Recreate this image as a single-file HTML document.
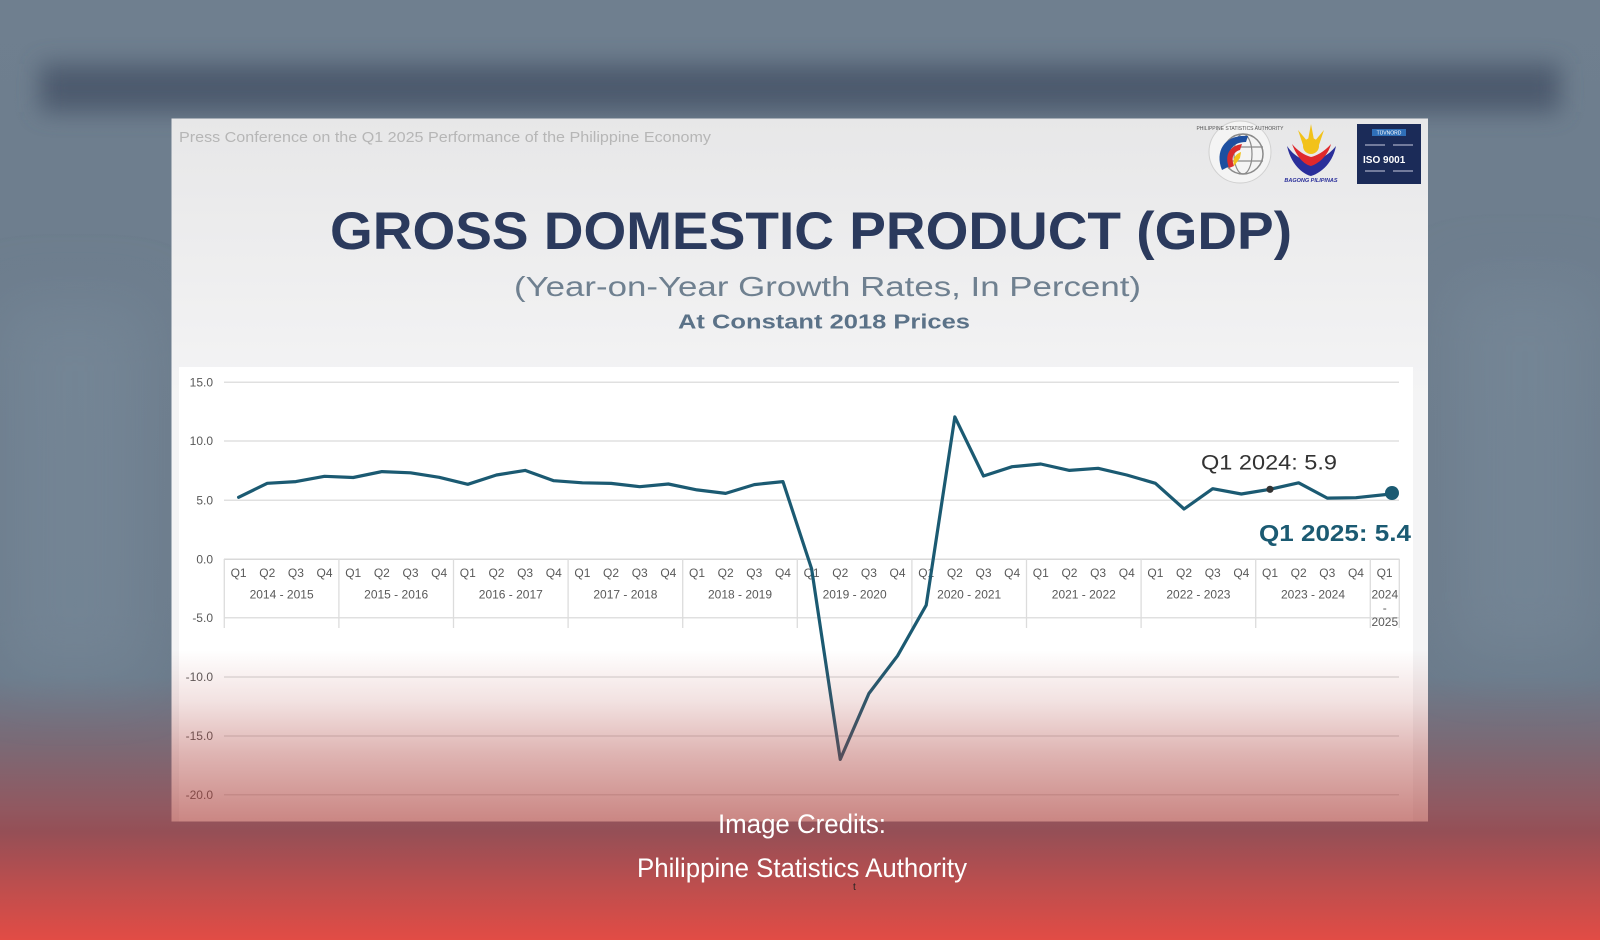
<!DOCTYPE html>
<html><head><meta charset="utf-8">
<style>
html,body{margin:0;padding:0;}
body{width:1600px;height:940px;overflow:hidden;background:#6e7e8e;}
svg{display:block;}
text{font-family:"Liberation Sans",Arial,sans-serif;}
</style></head>
<body>
<svg width="1600" height="940" viewBox="0 0 1600 940" xmlns="http://www.w3.org/2000/svg">
<defs>
<linearGradient id="bg" x1="0" y1="0" x2="0" y2="940" gradientUnits="userSpaceOnUse">
<stop offset="0" stop-color="#6f7f8f"/>
<stop offset="0.72" stop-color="#6b7b8b"/>
<stop offset="0.79" stop-color="#7a6a76"/>
<stop offset="0.86" stop-color="#915860"/>
<stop offset="0.885" stop-color="#954f56"/>
<stop offset="0.94" stop-color="#bb4e4e"/>
<stop offset="1" stop-color="#e24c45"/>
</linearGradient>
<filter id="blur" x="-10%" y="-100%" width="120%" height="300%"><feGaussianBlur stdDeviation="12"/></filter>
<filter id="blur2" x="-50%" y="-50%" width="200%" height="200%"><feGaussianBlur stdDeviation="30"/></filter>
<linearGradient id="slidebg" x1="0" y1="118" x2="0" y2="400" gradientUnits="userSpaceOnUse">
<stop offset="0" stop-color="#e7e7e8"/>
<stop offset="1" stop-color="#f4f4f5"/>
</linearGradient>
<linearGradient id="ov" x1="0" y1="650" x2="0" y2="822" gradientUnits="userSpaceOnUse">
<stop offset="0" stop-color="rgb(170,60,55)" stop-opacity="0"/>
<stop offset="0.3" stop-color="rgb(170,60,55)" stop-opacity="0.15"/>
<stop offset="0.6" stop-color="rgb(170,60,55)" stop-opacity="0.38"/>
<stop offset="1" stop-color="rgb(170,60,55)" stop-opacity="0.62"/>
</linearGradient>
</defs>

<!-- page background -->
<rect x="0" y="0" width="1600" height="940" fill="url(#bg)"/>
<rect x="40" y="64" width="1520" height="48" fill="#48576a" filter="url(#blur)" opacity="0.9"/>
<rect x="0" y="300" width="150" height="380" fill="#7a8c9c" filter="url(#blur2)" opacity="0.5"/>
<rect x="1450" y="280" width="150" height="380" fill="#7a8c9c" filter="url(#blur2)" opacity="0.5"/>

<!-- slide -->
<rect x="171.5" y="118.5" width="1256.5" height="703" fill="url(#slidebg)"/>
<rect x="179" y="367" width="1234" height="454.5" fill="#ffffff"/>

<text x="179" y="142" font-size="15" fill="#b6b6b6" textLength="532" lengthAdjust="spacingAndGlyphs">Press Conference on the Q1 2025 Performance of the Philippine Economy</text>

<!-- logos -->
<g>
<circle cx="1240" cy="152" r="31" fill="#f4f4f4" stroke="#d0d0d0" stroke-width="1"/>
<circle cx="1243" cy="154" r="20" fill="none" stroke="#8a8a8a" stroke-width="1.5"/>
<ellipse cx="1243" cy="154" rx="9" ry="20" fill="none" stroke="#8a8a8a" stroke-width="1.2"/>
<line x1="1223" y1="147" x2="1263" y2="147" stroke="#8a8a8a" stroke-width="1.2"/>
<line x1="1223" y1="161" x2="1263" y2="161" stroke="#8a8a8a" stroke-width="1.2"/>
<path d="M1222 170 C1214 150 1226 134 1248 136 L1246 142 C1232 142 1226 152 1230 166 Z" fill="#1d4fa0"/>
<path d="M1229 168 C1224 154 1230 146 1242 144 L1240 150 C1233 152 1231 158 1234 166 Z" fill="#d92c2c"/>
<path d="M1234 166 C1232 158 1236 154 1241 152 L1240 158 Z" fill="#f2c21a"/>
<text x="1240" y="130" font-size="5" fill="#555" text-anchor="middle">PHILIPPINE STATISTICS AUTHORITY</text>
</g>
<g>
<path d="M1311 124 L1314 140 L1308 140 Z" fill="#f2c21a"/>
<path d="M1298 130 L1308 142 L1303 145 Z" fill="#f2c21a"/>
<path d="M1324 130 L1319 145 L1314 142 Z" fill="#f2c21a"/>
<circle cx="1311" cy="146" r="8" fill="#f2c21a"/>
<path d="M1287 146 C1292 168 1306 175 1311 176 C1318 174 1332 166 1336 146 C1328 156 1318 160 1311 162 C1302 160 1294 156 1287 146 Z" fill="#2a2f9a"/>
<path d="M1292 144 C1298 160 1306 165 1311 166 C1318 164 1328 156 1331 144 C1324 152 1316 156 1311 157 C1304 155 1298 151 1292 144 Z" fill="#e0282c"/>
<text x="1311" y="182" font-size="5.5" font-weight="bold" fill="#2a2f9a" text-anchor="middle" font-style="italic">BAGONG PILIPINAS</text>
</g>
<g>
<rect x="1357" y="124" width="64" height="60" fill="#1b2b58"/>
<rect x="1372" y="129" width="34" height="7" fill="#2f6fb8"/>
<text x="1389" y="134.5" font-size="5" fill="#ffffff" text-anchor="middle">TÜVNORD</text>
<line x1="1365" y1="145" x2="1385" y2="145" stroke="#c8cbe0" stroke-width="1"/>
<line x1="1393" y1="145" x2="1413" y2="145" stroke="#c8cbe0" stroke-width="1"/>
<text x="1363" y="163" font-size="10" font-weight="bold" fill="#ffffff">ISO 9001</text>
<line x1="1365" y1="171" x2="1385" y2="171" stroke="#c8cbe0" stroke-width="1"/>
<line x1="1393" y1="171" x2="1413" y2="171" stroke="#c8cbe0" stroke-width="1"/>
</g>

<!-- titles -->
<text x="330" y="249" font-size="53" font-weight="bold" fill="#2b3a5d" textLength="962" lengthAdjust="spacingAndGlyphs">GROSS DOMESTIC PRODUCT (GDP)</text>
<text x="514" y="296" font-size="28" fill="#6f8090" textLength="627" lengthAdjust="spacingAndGlyphs">(Year-on-Year Growth Rates, In Percent)</text>
<text x="678" y="328.5" font-size="20" font-weight="bold" fill="#5b7288" textLength="292" lengthAdjust="spacingAndGlyphs">At Constant 2018 Prices</text>

<!-- gridlines -->
<g stroke="#e0e0e0" stroke-width="1.5">
<line x1="224" y1="382.3" x2="1399" y2="382.3"/>
<line x1="224" y1="441" x2="1399" y2="441"/>
<line x1="224" y1="500.3" x2="1399" y2="500.3"/>
<line x1="224" y1="617.7" x2="1399" y2="617.7"/>
<line x1="224" y1="677" x2="1399" y2="677"/>
<line x1="224" y1="736" x2="1399" y2="736"/>
<line x1="224" y1="794.8" x2="1399" y2="794.8"/>
</g>
<line x1="224" y1="559.3" x2="1399.5" y2="559.3" stroke="#d9d9d9" stroke-width="1.5"/>
<g stroke="#dcdcdc" stroke-width="1.3">
<line x1="224.3" y1="559" x2="224.3" y2="628"/>
<line x1="338.9" y1="559" x2="338.9" y2="628"/>
<line x1="453.5" y1="559" x2="453.5" y2="628"/>
<line x1="568.1" y1="559" x2="568.1" y2="628"/>
<line x1="682.7" y1="559" x2="682.7" y2="628"/>
<line x1="797.3" y1="559" x2="797.3" y2="628"/>
<line x1="911.9" y1="559" x2="911.9" y2="628"/>
<line x1="1026.5" y1="559" x2="1026.5" y2="628"/>
<line x1="1141.1" y1="559" x2="1141.1" y2="628"/>
<line x1="1255.7" y1="559" x2="1255.7" y2="628"/>
<line x1="1370.3" y1="559" x2="1370.3" y2="628"/>
<line x1="1399.3" y1="559" x2="1399.3" y2="628"/>
</g>

<!-- y labels -->
<g font-size="12" fill="#595959" text-anchor="end">
<text x="213" y="386.5">15.0</text>
<text x="213" y="445.2">10.0</text>
<text x="213" y="504.5">5.0</text>
<text x="213" y="563.5">0.0</text>
<text x="213" y="621.9">-5.0</text>
<text x="213" y="681.2">-10.0</text>
<text x="213" y="740.2">-15.0</text>
<text x="213" y="799">-20.0</text>
</g>

<!-- quarter labels -->
<g font-size="12" fill="#595959" text-anchor="middle">
<text x="238.6" y="577">Q1</text><text x="267.25" y="577">Q2</text><text x="295.9" y="577">Q3</text><text x="324.55" y="577">Q4</text>
<text x="353.2" y="577">Q1</text><text x="381.85" y="577">Q2</text><text x="410.5" y="577">Q3</text><text x="439.15" y="577">Q4</text>
<text x="467.8" y="577">Q1</text><text x="496.45" y="577">Q2</text><text x="525.1" y="577">Q3</text><text x="553.75" y="577">Q4</text>
<text x="582.4" y="577">Q1</text><text x="611.05" y="577">Q2</text><text x="639.7" y="577">Q3</text><text x="668.35" y="577">Q4</text>
<text x="697" y="577">Q1</text><text x="725.65" y="577">Q2</text><text x="754.3" y="577">Q3</text><text x="782.95" y="577">Q4</text>
<text x="811.6" y="577">Q1</text><text x="840.25" y="577">Q2</text><text x="868.9" y="577">Q3</text><text x="897.55" y="577">Q4</text>
<text x="926.2" y="577">Q1</text><text x="954.85" y="577">Q2</text><text x="983.5" y="577">Q3</text><text x="1012.15" y="577">Q4</text>
<text x="1040.8" y="577">Q1</text><text x="1069.45" y="577">Q2</text><text x="1098.1" y="577">Q3</text><text x="1126.75" y="577">Q4</text>
<text x="1155.4" y="577">Q1</text><text x="1184.05" y="577">Q2</text><text x="1212.7" y="577">Q3</text><text x="1241.35" y="577">Q4</text>
<text x="1270" y="577">Q1</text><text x="1298.65" y="577">Q2</text><text x="1327.3" y="577">Q3</text><text x="1355.95" y="577">Q4</text>
<text x="1384.6" y="577">Q1</text>
</g>
<g font-size="12" fill="#595959" text-anchor="middle">
<text x="281.6" y="598.5">2014 - 2015</text>
<text x="396.2" y="598.5">2015 - 2016</text>
<text x="510.8" y="598.5">2016 - 2017</text>
<text x="625.4" y="598.5">2017 - 2018</text>
<text x="740" y="598.5">2018 - 2019</text>
<text x="854.6" y="598.5">2019 - 2020</text>
<text x="969.2" y="598.5">2020 - 2021</text>
<text x="1083.8" y="598.5">2021 - 2022</text>
<text x="1198.4" y="598.5">2022 - 2023</text>
<text x="1313" y="598.5">2023 - 2024</text>
<text x="1384.8" y="598.5">2024</text>
<text x="1384.8" y="612">-</text>
<text x="1384.8" y="626">2025</text>
</g>

<!-- series -->
<polyline fill="none" stroke="#1b5a72" stroke-width="3.2" stroke-linejoin="round" stroke-linecap="round"
points="238.6,497.3 267.25,483.3 295.9,481.6 324.55,476.3 353.2,477.5 381.85,471.6 410.5,472.8 439.15,477.3 467.8,484.3 496.45,475 525.1,470.4 553.75,480.7 582.4,482.8 611.05,483.4 639.7,486.7 668.35,484 697,489.9 725.65,493.4 754.3,484.6 782.95,481.6 811.6,568.7 840.25,759.4 868.9,693.5 897.55,655.8 926.2,605.2 954.85,416.9 983.5,476 1012.15,466.7 1040.8,464 1069.45,470.4 1098.1,468.3 1126.75,475 1155.4,483.3 1184.05,509 1212.7,488.7 1241.35,494 1270,489.3 1298.65,482.8 1327.3,498.1 1355.95,497.7 1391,494"/>
<circle cx="1270" cy="489.3" r="3.6" fill="#333333"/>
<circle cx="1392" cy="493" r="7" fill="#1b5a72"/>

<text x="1201" y="469.3" font-size="21" fill="#333333" textLength="136" lengthAdjust="spacingAndGlyphs">Q1 2024: 5.9</text>
<text x="1259" y="541" font-size="23" font-weight="bold" fill="#1b5a72" textLength="152" lengthAdjust="spacingAndGlyphs">Q1 2025: 5.4</text>

<!-- reddish overlay on slide -->
<rect x="171.5" y="650" width="1256.5" height="171.5" fill="url(#ov)"/>

<!-- credits -->
<text x="718" y="833" font-size="27" fill="#ffffff" textLength="168" lengthAdjust="spacingAndGlyphs">Image Credits:</text>
<text x="637" y="877" font-size="27" fill="#ffffff" textLength="330" lengthAdjust="spacingAndGlyphs">Philippine Statistics Authority</text>
<text x="853" y="890" font-size="10" fill="#222222">t</text>
</svg>
</body></html>
